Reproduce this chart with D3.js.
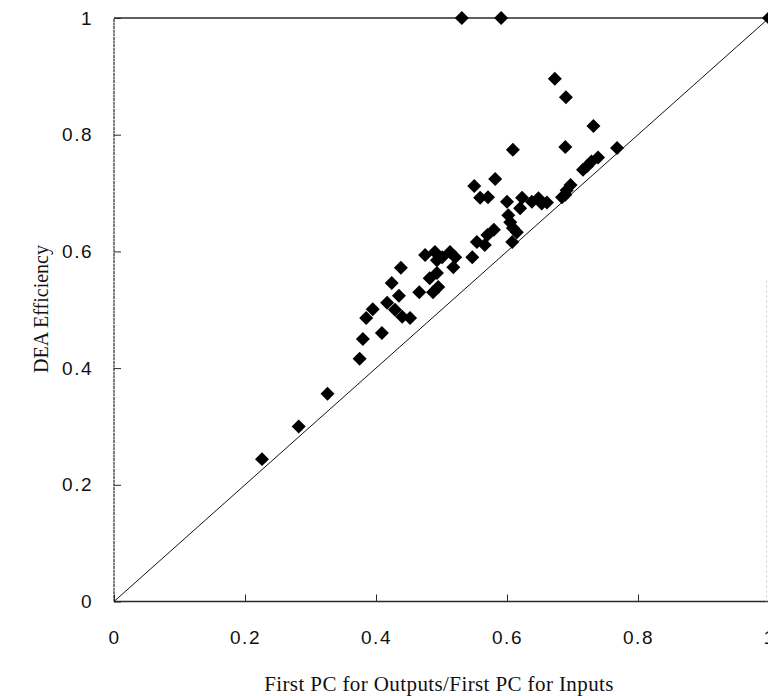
<!DOCTYPE html>
<html>
<head>
<meta charset="utf-8">
<script src="https://cdn.jsdelivr.net/npm/d3@7"></script>
<style>
  html, body { margin: 0; padding: 0; background: #fff; }
  svg { display: block; }
</style>
</head>
<body>
<svg id="chart" width="768" height="696"></svg>
<script>
// Data: x = First PC for Outputs / First PC for Inputs, y = DEA efficiency
const pcRatio = [
  0.226, 0.282, 0.326, 0.375, 0.380, 0.385, 0.395, 0.409, 0.417, 0.429,
  0.440, 0.452, 0.424, 0.435, 0.438, 0.466, 0.487, 0.495, 0.482, 0.493,
  0.475, 0.490, 0.501, 0.493, 0.513, 0.521, 0.518, 0.547, 0.554, 0.566,
  0.570, 0.580, 0.550, 0.559, 0.571, 0.582, 0.609, 0.608, 0.615, 0.609,
  0.605, 0.602, 0.600, 0.620, 0.623, 0.638, 0.648, 0.653, 0.661, 0.684,
  0.689, 0.691, 0.697, 0.716, 0.722, 0.729, 0.739, 0.768, 0.689, 0.732,
  0.690, 0.673, 0.531, 0.591, 1.000
];
const deaEff = [
  0.244, 0.300, 0.356, 0.416, 0.450, 0.486, 0.501, 0.460, 0.512, 0.500,
  0.488, 0.486, 0.546, 0.524, 0.572, 0.530, 0.530, 0.539, 0.554, 0.563,
  0.594, 0.599, 0.590, 0.585, 0.599, 0.590, 0.573, 0.590, 0.616, 0.611,
  0.628, 0.637, 0.712, 0.692, 0.693, 0.724, 0.774, 0.616, 0.633, 0.640,
  0.650, 0.662, 0.685, 0.674, 0.692, 0.685, 0.691, 0.682, 0.684, 0.693,
  0.697, 0.705, 0.714, 0.740, 0.746, 0.754, 0.761, 0.777, 0.779, 0.815,
  0.864, 0.896, 1.000, 1.000, 1.000
];
const xTicks = [0, 0.2, 0.4, 0.6, 0.8, 1];
const yTicks = [0, 0.2, 0.4, 0.6, 0.8, 1];
const xTickLabels = ["0", "0.2", "0.4", "0.6", "0.8", "1"];
const yTickLabels = ["0", "0.2", "0.4", "0.6", "0.8", "1"];
const xTitle = "First PC for Outputs/First PC for Inputs";
const yTitle = "DEA Efficiency";

const points = pcRatio.map((v, i) => ({ x: v, y: deaEff[i] }));

const svg = d3.select("#chart");
const x = d3.scaleLinear().domain([0, 1]).range([114, 769]);
const y = d3.scaleLinear().domain([0, 1]).range([601.5, 18]);

const frameColor = "#2a2a2a";

// Frame: left, top, bottom
svg.append("line").attr("x1", x(0)).attr("x2", x(0)).attr("y1", y(0)).attr("y2", y(1))
  .attr("stroke", frameColor).attr("stroke-width", 1.2).attr("stroke-dasharray", "3,0.6");
svg.append("line").attr("x1", x(0)).attr("x2", 768).attr("y1", y(1)).attr("y2", y(1))
  .attr("stroke", frameColor).attr("stroke-width", 1.3);
svg.append("line").attr("x1", x(0)).attr("x2", 768).attr("y1", y(0)).attr("y2", y(0))
  .attr("stroke", frameColor).attr("stroke-width", 1.5);
svg.append("line").attr("x1", 766.5).attr("x2", 766.5).attr("y1", y(0.55)).attr("y2", y(0))
  .attr("stroke", "#ccc").attr("stroke-width", 1).attr("stroke-dasharray", "2,3");

// Y axis (ticks pointing inward)
const yAxis = d3.axisLeft(y).tickValues(yTicks).tickSize(-7)
  .tickFormat((d, i) => yTickLabels[i]).tickPadding(21);
const gy = svg.append("g").attr("transform", `translate(${x(0)},0)`).call(yAxis);
gy.select(".domain").remove();
gy.selectAll(".tick line").attr("stroke", frameColor);
gy.selectAll(".tick text")
  .attr("font-family", "'Liberation Sans', Arial, sans-serif")
  .attr("font-size", 19).attr("fill", "#111").attr("letter-spacing", "1.5px");

// X axis (ticks pointing upward)
const xAxis = d3.axisBottom(x).tickValues(xTicks).tickSize(-7)
  .tickFormat((d, i) => xTickLabels[i]).tickPadding(29);
const gx = svg.append("g").attr("transform", `translate(0,${y(0)})`).call(xAxis);
gx.select(".domain").remove();
gx.selectAll(".tick line").attr("stroke", frameColor);
gx.selectAll(".tick text")
  .attr("font-family", "'Liberation Sans', Arial, sans-serif")
  .attr("font-size", 19).attr("fill", "#111").attr("letter-spacing", "1.5px");

// Diagonal reference line y = x
svg.append("line").attr("x1", x(0)).attr("y1", y(0)).attr("x2", x(1)).attr("y2", y(1))
  .attr("stroke", "#111").attr("stroke-width", 1);

// Diamonds
const diamond = d3.symbol().type(d3.symbolSquare).size(98);
svg.append("g").selectAll("path").data(points).join("path")
  .attr("d", diamond)
  .attr("transform", d => `translate(${x(d.x)},${y(d.y)}) rotate(45)`)
  .attr("fill", "#000");

// Axis titles
svg.append("text")
  .attr("x", 439).attr("y", 691)
  .attr("text-anchor", "middle")
  .attr("font-family", "'Liberation Serif', 'Times New Roman', serif")
  .attr("font-size", 21).attr("letter-spacing", "0.4px").attr("fill", "#111")
  .text(xTitle);
svg.append("text")
  .attr("transform", "translate(48,309) rotate(-90)")
  .attr("text-anchor", "middle")
  .attr("font-family", "'Liberation Serif', 'Times New Roman', serif")
  .attr("font-size", 20).attr("fill", "#111")
  .text(yTitle);
</script>
</body>
</html>
